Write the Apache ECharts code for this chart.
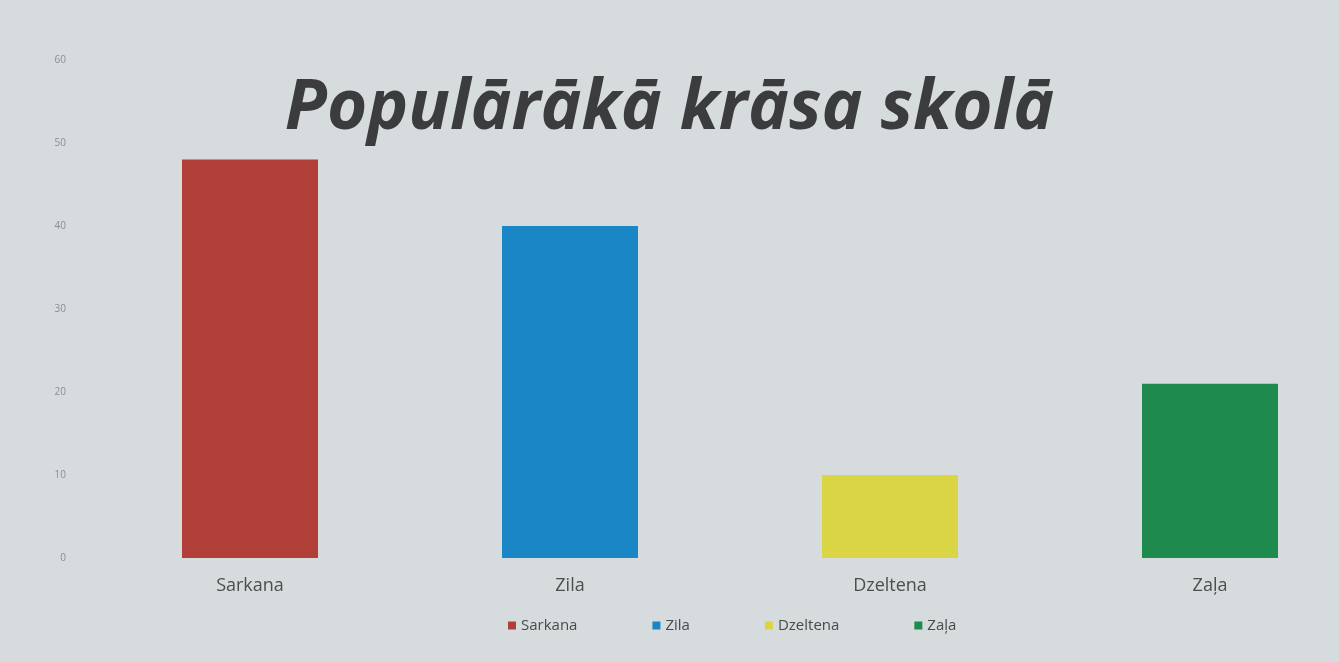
<!DOCTYPE html>
<html><head><meta charset="utf-8">
<script src="https://cdn.jsdelivr.net/npm/echarts@6/dist/echarts.min.js"></script>
<style>html,body{margin:0;padding:0;background:#d6dbdd;}#c{width:1339px;height:662px;}</style>
</head><body><div id="c"></div>
<script>
const categories = ['Sarkana', 'Zila', 'Dzeltena', 'Zaļa'];
const values = [48, 40, 10, 21];
const colors = ['#b13f37', '#1b86c6', '#dad544', '#1f8a4e'];
const yTicks = [0, 10, 20, 30, 40, 50, 60];

const chart = echarts.init(document.getElementById('c'));
const series = categories.map((name, i) => ({
  name: name,
  type: 'bar',
  stack: 'all',
  barWidth: 136,
  itemStyle: { color: colors[i] },
  data: categories.map((c, j) => j === i ? values[i] : null)
}));
chart.setOption({
  backgroundColor: '#d6dbdd',
  title: {
    text: 'Populārākā krāsa skolā',
    left: 'center',
    top: 70,
    textStyle: { fontFamily: 'Open Sans', fontStyle: 'italic', fontWeight: 'bold', fontSize: 69, color: '#3b3c3d' }
  },
  legend: {
    left: 503, top: 613,
    itemWidth: 8, itemHeight: 8, itemGap: 75,
    icon: 'rect',
    textStyle: { fontFamily: 'Open Sans', fontSize: 15, color: '#4a4a4a' },
    data: categories
  },
  grid: { left: 90, width: 1280, top: 60, bottom: 104, outerBoundsMode: 'none', containLabel: false },
  xAxis: {
    type: 'category', data: categories,
    axisLine: { show: false }, axisTick: { show: false },
    axisLabel: { fontFamily: 'Open Sans', fontSize: 18, color: '#4e4e4e', margin: 19 }
  },
  yAxis: {
    type: 'value', min: yTicks[0], max: yTicks[yTicks.length - 1], interval: 10,
    splitLine: { show: false },
    axisLabel: { fontFamily: 'Open Sans', fontSize: 10, color: '#8a8e90', margin: 24 }
  },
  series: series
});
</script></body></html>
